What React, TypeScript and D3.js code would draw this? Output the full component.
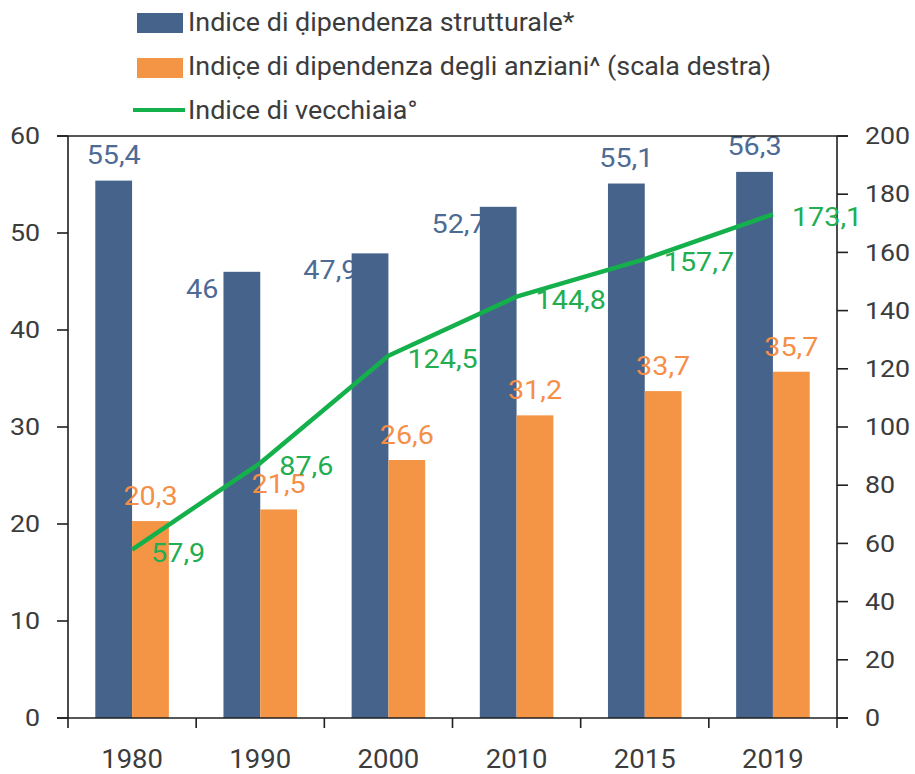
import React from "react";
import * as d3 from "d3";

const categories = ["1980", "1990", "2000", "2010", "2015", "2019"];
const structural = [55.4, 46, 47.9, 52.7, 55.1, 56.3];
const elderly = [20.3, 21.5, 26.6, 31.2, 33.7, 35.7];
const oldAge = [57.9, 87.6, 124.5, 144.8, 157.7, 173.1];
const leftTicks = [0, 10, 20, 30, 40, 50, 60];
const rightTicks = [0, 20, 40, 60, 80, 100, 120, 140, 160, 180, 200];
const structuralLabelMode = ["top", "left", "left", "left", "top", "top"];
const legendLabels = [
  "Indice di \u1E0Dipendenza strutturale*",
  "Indic\u0323e di dipendenza degli anziani^ (scala destra)",
  "Indice di vecchiaia°",
];

const W = 915;
const H = 774;
const plot = { left: 68, right: 837, top: 136, bottom: 718 };
const BLUE = "#46638c";
const BLUE_TXT = "#4d6b95";
const ORANGE = "#f39545";
const ORANGE_TXT = "#f58f48";
const GREEN = "#14b04b";
const GREEN_TXT = "#22ad50";
const AXIS = "#1f1f1f";
const TXT = "#3c3c3c";
const FONT = "Roboto, 'Liberation Sans', sans-serif";

const fmt = (v: number) => String(v).replace(".", ",");

type TP = {
  x: number;
  y: number;
  sx?: number;
  size: number;
  fill: string;
  anchor?: "start" | "middle" | "end";
  dy?: string;
  children: React.ReactNode;
};
function T({ x, y, sx = 1.12, size, fill, anchor = "start", dy, children }: TP) {
  return (
    <text
      transform={`translate(${x},${y}) scale(${sx},1)`}
      textAnchor={anchor}
      fontSize={size}
      fill={fill}
      dy={dy}
    >
      {children}
    </text>
  );
}

export default function App() {
  const x = d3.scaleBand<string>().domain(categories).range([plot.left, plot.right]).padding(0);
  const bw = x.bandwidth();
  const barW = bw * 0.287;
  const yL = d3.scaleLinear().domain([0, 60]).range([plot.bottom, plot.top]);
  const yR = d3.scaleLinear().domain([0, 200]).range([plot.bottom, plot.top]);
  const cx = (c: string) => (x(c) as number) + bw / 2;

  const line = d3
    .line<number>()
    .x((_, i) => cx(categories[i]))
    .y((d) => yR(d));

  return (
    <svg
      width={W}
      height={H}
      style={{ position: "absolute", left: 0, top: 0, background: "#fff" }}
      fontFamily={FONT}
    >
      {/* Legend */}
      <g>
        <rect x={137} y={13} width={46} height={20} fill={BLUE} />
        <rect x={137} y={58} width={46} height={20} fill={ORANGE} />
        <line x1={133} x2={185} y1={110} y2={110} stroke={GREEN} strokeWidth={4} />
        {legendLabels.map((t, i) => (
          <T key={t} x={188} y={31 + i * 44} size={25} sx={1.075} fill={TXT}>
            {t}
          </T>
        ))}
      </g>

      {/* Structural labels placed left (drawn under bars) */}
      {categories.map((c, i) =>
        structuralLabelMode[i] === "left" ? (
          <T
            key={"sl" + c}
            x={cx(c) - 58}
            y={yL(structural[i]) + 26}
            anchor="middle"
            size={25}
            sx={1.15}
            fill={BLUE_TXT}
          >
            {fmt(structural[i])}
          </T>
        ) : null
      )}

      {/* Bars */}
      {categories.map((c, i) => (
        <g key={"b" + c}>
          <rect
            x={cx(c) - barW}
            y={yL(structural[i])}
            width={barW}
            height={plot.bottom - yL(structural[i])}
            fill={BLUE}
          />
          <rect
            x={cx(c)}
            y={yL(elderly[i])}
            width={barW}
            height={plot.bottom - yL(elderly[i])}
            fill={ORANGE}
          />
        </g>
      ))}

      {/* Structural labels on top */}
      {categories.map((c, i) =>
        structuralLabelMode[i] === "top" ? (
          <T
            key={"st" + c}
            x={cx(c) - barW / 2}
            y={yL(structural[i]) - 17}
            anchor="middle"
            size={25}
            sx={1.15}
            fill={BLUE_TXT}
          >
            {fmt(structural[i])}
          </T>
        ) : null
      )}

      {/* Elderly labels */}
      {categories.map((c, i) => (
        <T
          key={"el" + c}
          x={cx(c) + barW / 2}
          y={yL(elderly[i]) - 16}
          anchor="middle"
          size={25}
          sx={1.15}
          fill={ORANGE_TXT}
        >
          {fmt(elderly[i])}
        </T>
      ))}

      {/* Axes frame */}
      <g stroke={AXIS} strokeWidth={1.6} fill="none">
        <line x1={57} x2={848} y1={plot.top} y2={plot.top} />
        <line x1={57} x2={848} y1={plot.bottom} y2={plot.bottom} />
        <line x1={plot.left} x2={plot.left} y1={plot.top} y2={plot.bottom + 10} />
        <line x1={plot.right} x2={plot.right} y1={plot.top} y2={plot.bottom + 10} />
        {leftTicks.map((t) => (
          <line key={"lt" + t} x1={57} x2={plot.left} y1={yL(t)} y2={yL(t)} />
        ))}
        {rightTicks.map((t) => (
          <line key={"rt" + t} x1={plot.right} x2={848} y1={yR(t)} y2={yR(t)} />
        ))}
        {categories.slice(1).map((c) => (
          <line key={"ct" + c} x1={x(c) as number} x2={x(c) as number} y1={plot.bottom} y2={plot.bottom + 10} />
        ))}
      </g>

      {/* Old-age index line */}
      <path d={line(oldAge) || ""} fill="none" stroke={GREEN} strokeWidth={4.5} strokeLinejoin="round" />
      {categories.map((c, i) => (
        <T key={"gl" + c} x={cx(c) + 19} y={yR(oldAge[i]) + 12} size={25} sx={1.15} fill={GREEN_TXT}>
          {fmt(oldAge[i])}
        </T>
      ))}

      {/* Tick labels */}
      {leftTicks.map((t) => (
        <T key={"ll" + t} x={40} y={yL(t)} dy="0.35em" anchor="end" size={23.5} sx={1.14} fill={TXT}>
          {t}
        </T>
      ))}
      {rightTicks.map((t) => (
        <T key={"rl" + t} x={865} y={yR(t)} dy="0.35em" anchor="start" size={23.5} sx={1.14} fill={TXT}>
          {t}
        </T>
      ))}
      {categories.map((c) => (
        <T key={"cl" + c} x={cx(c)} y={768} anchor="middle" size={25} sx={1.1} fill={TXT}>
          {c}
        </T>
      ))}
    </svg>
  );
}
